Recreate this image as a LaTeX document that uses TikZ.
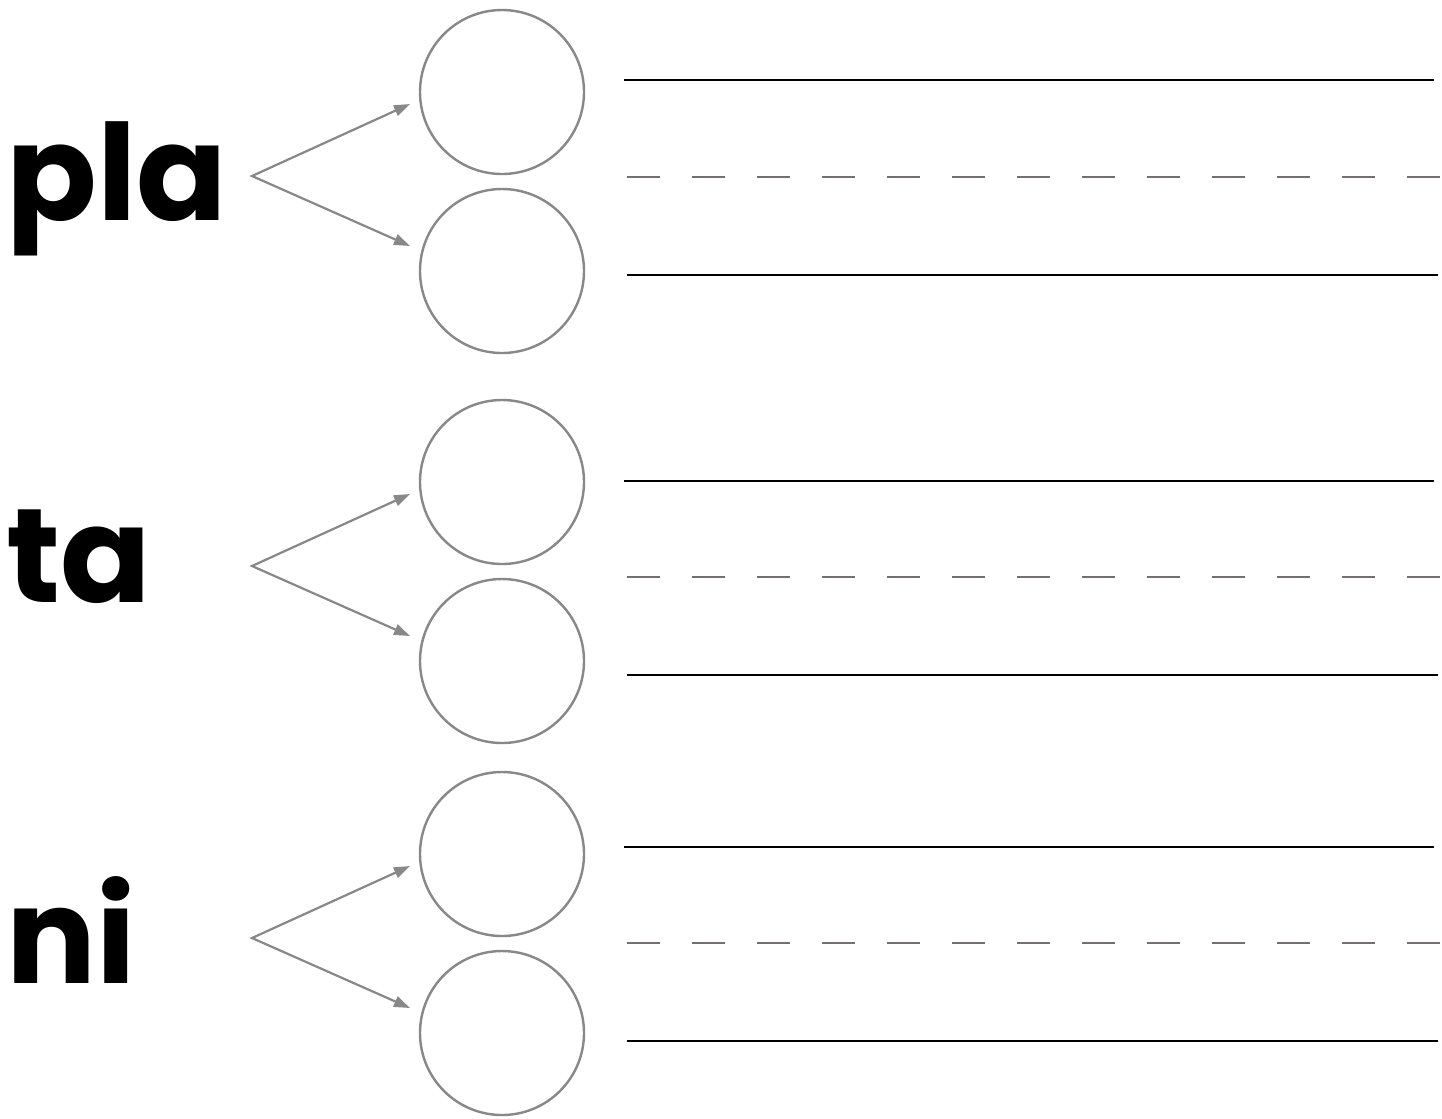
\documentclass[tikz,border=0pt]{standalone}
\usepackage{fontspec}
\setmainfont{Poppins}
\usetikzlibrary{arrows.meta,positioning,calc}
\definecolor{ringgray}{RGB}{136,136,136}
\definecolor{dashgray}{RGB}{117,112,112}

\begin{document}
\begin{tikzpicture}[
  x=0.1mm, y=-0.1mm,
  syll/.style={font=\fontsize{38}{38}\selectfont\bfseries, anchor=base west, inner sep=0pt},
  slot/.style={circle, draw=ringgray, line width=0.24mm, minimum size=16.4mm, inner sep=0pt},
  split/.style={{Triangle[length=1.6mm, width=1.1mm]}-{Triangle[length=1.6mm, width=1.1mm]}, draw=ringgray, line width=0.22mm},
  rule/.style={draw=black, line width=0.2mm},
  guide/.style={draw=dashgray, line width=0.2mm, dash pattern=on 3.3mm off 3.2mm},
]
\useasboundingbox (0,0) rectangle (1442,1118);

% syllables
\node[syll] (pla) at (6,220) {pla};
\node[syll] (ta) at (6,602) {ta};
\node[syll] (ni) at (6,983) {ni};

% answer circles
\node[slot] (pla1) at (502,92) {};
\node[slot] (pla2) at (502,271) {};
\node[slot] (ta1) at (502,482) {};
\node[slot] (ta2) at (502,661) {};
\node[slot] (ni1) at (502,854) {};
\node[slot] (ni2) at (502,1033) {};

% forks
\coordinate (plafork) at (252,176);
\coordinate (tafork) at (252,566);
\coordinate (nifork) at (252,938);
\coordinate (pla1in) at (410,104);
\coordinate (pla2in) at (410,246);
\coordinate (ta1in) at (410,494);
\coordinate (ta2in) at (410,636);
\coordinate (ni1in) at (410,866);
\coordinate (ni2in) at (410,1008);

\draw[split] (pla1in) -- (plafork) -- (pla2in);
\draw[split] (ta1in) -- (tafork) -- (ta2in);
\draw[split] (ni1in) -- (nifork) -- (ni2in);

% writing lines
\draw[rule] (624,80) -- (1434,80);
\draw[guide] (627,177) -- (1442,177);
\draw[rule] (627,275) -- (1438,275);

\draw[rule] (624,481) -- (1434,481);
\draw[guide] (627,577) -- (1442,577);
\draw[rule] (627,675) -- (1438,675);

\draw[rule] (624,847) -- (1434,847);
\draw[guide] (627,943) -- (1442,943);
\draw[rule] (627,1041) -- (1438,1041);
\end{tikzpicture}
\end{document}
